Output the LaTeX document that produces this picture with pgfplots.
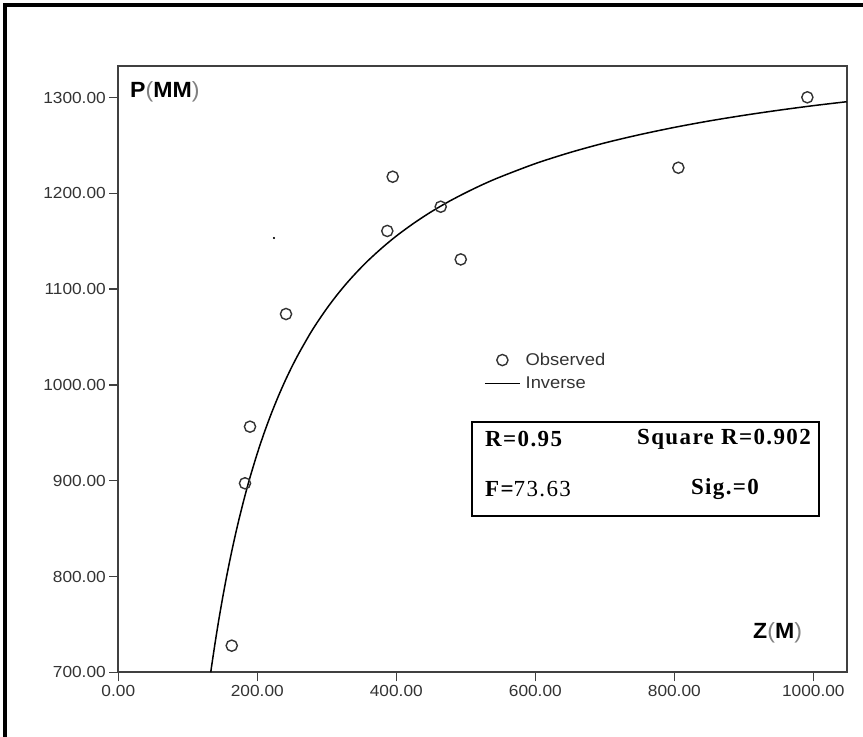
\documentclass[border=0pt]{standalone}
\usepackage{fontspec}
\setmainfont{Liberation Sans}
\newfontfamily\tickfont[FakeStretch=1.08]{Liberation Sans}
\newfontfamily\labfont[FakeStretch=1.05]{Liberation Sans}
\newfontfamily\statfont[LetterSpace=6]{Liberation Serif}
\usepackage{pgfplots}
\pgfplotsset{compat=1.18}
\definecolor{AxisGray}{HTML}{404040}
\definecolor{TickGray}{HTML}{333333}

\begin{document}
\begin{tikzpicture}[x=1pt,y=1pt]
  \useasboundingbox (0,0) rectangle (863,737);
  % outer frame (only top and left are inside the picture)
  \draw[line width=4.6pt] (4.9,-5) -- (4.9,732.1) -- (870,732.1);

  \begin{axis}[
    at={(118.3pt,64.7pt)}, anchor=south west,
    scale only axis,
    width=728.4pt, height=606.3pt,
    xmin=0, xmax=1048,
    ymin=700, ymax=1332.9,
    axis line style={AxisGray, line width=1.6pt},
    xtick={0,200,...,1000},
    ytick={700,800,...,1300},
    tick align=outside,
    xtick pos=bottom, ytick pos=left,
    major tick length=9pt,
    tick style={AxisGray, line width=1.3pt},
    ticklabel style={font=\tickfont\fontsize{16}{16}\selectfont, text=TickGray},
    /pgf/number format/.cd, fixed, zerofill, precision=2, 1000 sep={}, assume math mode=true,
    /pgfplots/.cd,
    legend style={at={(0.502,0.530)}, anchor=north west, draw=none, fill=none,
      font=\tickfont\fontsize{17}{17}\selectfont, text=TickGray,
      row sep=6pt, column sep=3pt, inner sep=0pt},
    legend cell align=left,
    legend image code/.code={
      \draw[mark repeat=2, mark phase=2, #1] plot coordinates {(0pt,0pt) (17.5pt,0pt) (35pt,0pt)};
    },
    clip=false,
  ]
    \addplot[only marks, mark=o, mark size=5.6pt, mark options={line width=1.4pt, draw=TickGray}]
      coordinates {
        (163.2,727.8) (182.3,897.3) (189.5,956.4) (241.3,1074.0) (387.0,1160.7)
        (394.8,1217.3) (463.9,1186.0) (492.7,1131.0) (805.8,1226.7) (991.4,1300.2)
      };
    \addlegendentry{Observed}
    \addplot[no marks, line width=1.5pt, black, smooth]
      coordinates {
        (133,700.0) (135,710.1) (140,734.1) (145,756.5) (150,777.3) (155,796.9)
        (160,815.1) (165,832.3) (170,848.5) (175,863.7) (180,878.1) (185,891.8)
        (190,904.7) (200,928.6) (210,950.2) (220,969.8) (230,987.7) (240,1004.2)
        (250,1019.3) (260,1033.2) (275,1052.3) (285,1063.9) (300,1079.8) (315,1094.2)
        (330,1107.3) (345,1119.2) (360,1130.2) (380,1143.4) (400,1155.4) (425,1168.7)
        (450,1180.6) (475,1191.2) (500,1200.7) (525,1209.4) (550,1217.2) (600,1231.0)
        (650,1242.6) (700,1252.6) (750,1261.2) (800,1268.8) (850,1275.5) (900,1281.4)
        (950,1286.7) (1000,1291.5) (1048,1295.6)
      };
    \addlegendentry{Inverse}
    \addplot[only marks, mark=*, mark size=0.8pt, black, forget plot]
      coordinates {(224,1153.3)};
  \end{axis}

  % axis titles
  \node[anchor=west, inner sep=0pt, font=\labfont\bfseries\fontsize{22}{22}\selectfont]
    at (130,645.5) {P{\mdseries\color{gray}(}MM{\mdseries\color{gray})}};
  \node[anchor=west, inner sep=0pt, font=\labfont\bfseries\fontsize{22}{22}\selectfont]
    at (753,104) {Z{\mdseries\color{gray}(}M{\mdseries\color{gray})}};

  % statistics box
  \draw[line width=1.8pt] (472.3,315.3) rectangle (819,221);
  \node[anchor=west, inner sep=0pt, font=\statfont\bfseries\fontsize{23}{23}\selectfont]
    at (485,297.7) {R=0.95};
  \node[anchor=east, inner sep=0pt, font=\statfont\bfseries\fontsize{23}{23}\selectfont]
    at (811,297.7) {Square R=0.902};
  \node[anchor=west, inner sep=0pt, font=\statfont\fontsize{23}{23}\selectfont]
    at (485,248) {\bfseries F=\mdseries 73.63};
  \node[inner sep=0pt, font=\statfont\bfseries\fontsize{23}{23}\selectfont]
    at (725,248) {Sig.=0};
\end{tikzpicture}
\end{document}
